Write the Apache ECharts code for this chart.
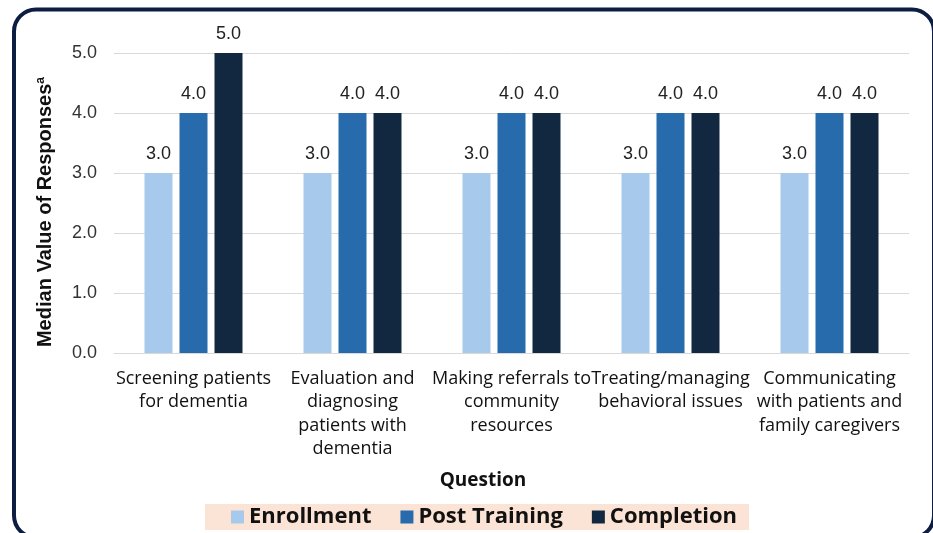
<!DOCTYPE html>
<html>
<head>
<meta charset="utf-8">
<script src="https://cdn.jsdelivr.net/npm/echarts@6/dist/echarts.min.js"></script>
<style>
  html, body { margin: 0; padding: 0; background: #fff; }
  #main { width: 933px; height: 533px; }
</style>
</head>
<body>
<div id="main"></div>
<script>
var categories = [
  'Screening patients\nfor dementia',
  'Evaluation and\ndiagnosing\npatients with\ndementia',
  'Making referrals to\ncommunity\nresources',
  'Treating/managing\nbehavioral issues',
  'Communicating\nwith patients and\nfamily caregivers'
];
var seriesNames = ['Enrollment', 'Post Training', 'Completion'];
var enrollment = [3, 3, 3, 3, 3];
var postTraining = [4, 4, 4, 4, 4];
var completion = [5, 4, 4, 4, 4];
var colors = ['#a7caec', '#276bac', '#112840'];

var chart = echarts.init(document.getElementById('main'));

function barSeries(name, data, color) {
  return {
    name: name,
    type: 'bar',
    data: data,
    barWidth: 28,
    barGap: '25%',
    itemStyle: { color: color },
    label: {
      show: true,
      position: 'top',
      distance: 10,
      fontSize: 18,
      fontFamily: 'Liberation Sans',
      color: '#222',
      formatter: function(p) { return p.value.toFixed(1); }
    }
  };
}

var option = {
  animation: false,
  backgroundColor: '#fff',
  grid: { left: 114, right: 24, top: 53, bottom: 180 },
  legend: {
    data: seriesNames,
    left: 205,
    top: 504,
    padding: [2, 12, 2, 26],
    backgroundColor: '#fbe3d6',
    itemGap: 29,
    itemWidth: 13,
    itemHeight: 13,
    icon: 'rect',
    textStyle: { fontSize: 22, fontWeight: 'bold', fontFamily: 'Open Sans', color: '#111' }
  },
  xAxis: {
    type: 'category',
    data: categories,
    axisTick: { show: false },
    axisLine: { lineStyle: { color: '#d9d9d9', width: 1 } },
    axisLabel: {
      interval: 0,
      margin: 14,
      fontSize: 18,
      lineHeight: 23.5,
      fontFamily: 'Open Sans',
      color: '#111'
    }
  },
  yAxis: {
    type: 'value',
    min: 0,
    max: 5,
    interval: 1,
    axisLabel: {
      margin: 17,
      fontSize: 18,
      fontFamily: 'Liberation Sans',
      color: '#333',
      formatter: function(v) { return v.toFixed(1); }
    },
    splitLine: { lineStyle: { color: '#d9d9d9' } }
  },
  graphic: [
    {
      type: 'rect',
      shape: { x: 14, y: 9.5, width: 920, height: 528, r: 22 },
      style: { fill: 'none', stroke: '#0d1d42', lineWidth: 4 },
      z: 10
    },
    {
      type: 'text',
      x: 45,
      y: 212,
      rotation: Math.PI / 2,
      style: {
        text: 'Median Value of Responses{sup|a}',
        fontSize: 20,
        fontWeight: 'bold',
        fontFamily: 'Liberation Sans',
        fill: '#111',
        textAlign: 'center',
        textVerticalAlign: 'middle',
        rich: {
          sup: { fontSize: 12, fontWeight: 'bold', fontFamily: 'Liberation Sans', fill: '#111', verticalAlign: 'top', padding: [0, 0, 9, 0] }
        }
      }
    },
    {
      type: 'text',
      x: 483,
      y: 481,
      style: {
        text: 'Question',
        fontSize: 19,
        fontWeight: 'bold',
        fontFamily: 'Open Sans',
        fill: '#111',
        textAlign: 'center',
        textVerticalAlign: 'middle'
      }
    }
  ],
  series: [
    barSeries(seriesNames[0], enrollment, colors[0]),
    barSeries(seriesNames[1], postTraining, colors[1]),
    barSeries(seriesNames[2], completion, colors[2])
  ]
};

chart.setOption(option);
</script>
</body>
</html>
